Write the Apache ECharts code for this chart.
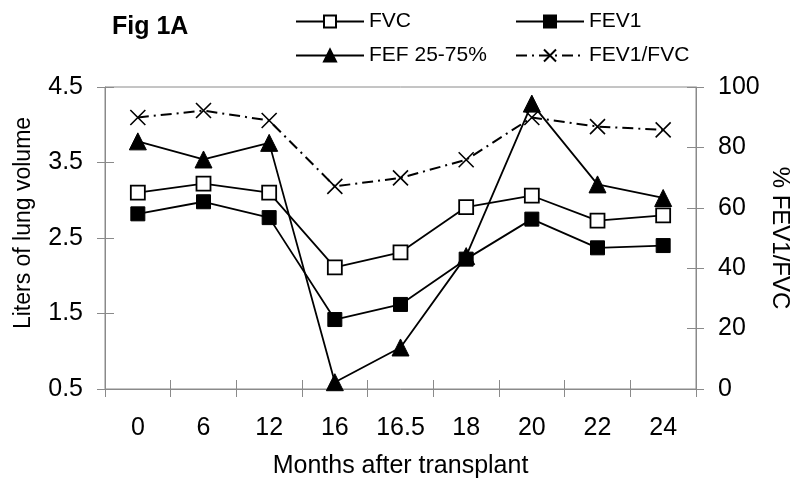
<!DOCTYPE html>
<html><head><meta charset="utf-8">
<script src="https://cdn.jsdelivr.net/npm/echarts@6/dist/echarts.min.js"></script>
<style>html,body{margin:0;padding:0;background:#fff}#c{width:800px;height:484px}</style>
</head><body><div id="c"></div>
<script>
const categories = ['0','6','12','16','16.5','18','20','22','24'];
const fvc = [3.10, 3.22, 3.10, 2.11, 2.31, 2.91, 3.06, 2.73, 2.80];
const fev1 = [2.82, 2.98, 2.77, 1.42, 1.62, 2.22, 2.75, 2.37, 2.40];
const fef = [3.78, 3.54, 3.76, 0.59, 1.05, 2.26, 4.28, 3.21, 3.03];
const ratio = [89.9, 92.2, 88.9, 67.1, 69.9, 75.9, 89.9, 86.9, 85.8];

const F = 'Liberation Sans, Arial, sans-serif';
const axisGrey = '#8a8a8a';
const crossPath = 'path://M0,0L10,10M10,0L0,10';

const chart = echarts.init(document.getElementById('c'), null, {renderer:'canvas'});
const legendCommon = {
  itemWidth: 68, itemHeight: 15,
  textStyle: {fontFamily: F, fontSize: 21, color: '#000'},
  itemGap: 0, padding: 0
};
const tickOnly = (extra) => Object.assign({
  axisLine: {show: false}, axisLabel: {show: false}, splitLine: {show: false},
  axisTick: {show: true, inside: true, length: 9, lineStyle: {color: axisGrey}}
}, extra);
chart.setOption({
  animation: false,
  backgroundColor: '#fff',
  title: {text: 'Fig 1A', left: 107, top: 10, textStyle: {fontFamily: F, fontSize: 25, fontWeight: 'bold', color: '#000'}},
  legend: [
    Object.assign({data: ['FVC'], left: 295, top: 11}, legendCommon),
    Object.assign({data: ['FEV1'], left: 515, top: 11}, legendCommon),
    Object.assign({data: ['FEF 25-75%'], left: 295, top: 45}, legendCommon),
    Object.assign({data: ['FEV1/FVC'], left: 515, top: 45}, legendCommon)
  ],
  grid: {left: 105, right: 104, top: 87, bottom: 94, show: true, borderColor: axisGrey, borderWidth: 1},
  xAxis: [
    {
      type: 'category', data: categories, boundaryGap: true, position: 'bottom',
      name: 'Months after transplant', nameLocation: 'middle', nameGap: 65, nameMoveOverlap: false,
      nameTextStyle: {fontFamily: F, fontSize: 25, color: '#000'},
      axisLine: {lineStyle: {color: axisGrey, width: 1}},
      axisTick: {show: true, length: 8, lineStyle: {color: axisGrey}},
      axisLabel: {fontFamily: F, fontSize: 25, color: '#000', margin: 27}
    },
    tickOnly({type: 'category', data: categories, boundaryGap: true, position: 'bottom'})
  ],
  yAxis: [
    {
      type: 'value', min: 0.5, max: 4.5, interval: 1, position: 'left',
      name: 'Liters of lung volume', nameLocation: 'middle', nameGap: 70, nameRotate: 90, nameMoveOverlap: false,
      nameTextStyle: {fontFamily: F, fontSize: 23, color: '#000', padding: [0, 0, 0, 30]},
      axisLine: {show: true, lineStyle: {color: axisGrey}},
      axisTick: {show: true, length: 8, lineStyle: {color: axisGrey}},
      axisLabel: {fontFamily: F, fontSize: 25, color: '#000', margin: 22, formatter: v => v.toFixed(1)},
      splitLine: {show: false}
    },
    {
      type: 'value', min: 0, max: 100, interval: 20, position: 'right',
      name: '% FEV1/FVC', nameLocation: 'middle', nameGap: 72, nameRotate: -90, nameMoveOverlap: false,
      nameTextStyle: {fontFamily: F, fontSize: 24, color: '#000'},
      axisLine: {show: true, lineStyle: {color: axisGrey}},
      axisTick: {show: true, length: 8, lineStyle: {color: axisGrey}},
      axisLabel: {fontFamily: F, fontSize: 25, color: '#000', margin: 22},
      splitLine: {show: false}
    },
    tickOnly({type: 'value', min: 0.5, max: 4.5, interval: 1, position: 'left'}),
    tickOnly({type: 'value', min: 0, max: 100, interval: 20, position: 'right'})
  ],
  series: [
    {name: 'FEV1/FVC', type: 'line', yAxisIndex: 1, data: ratio, symbol: crossPath, symbolSize: 15,
     lineStyle: {color: '#000', width: 2, type: [11, 5, 2, 5]},
     itemStyle: {color: '#000', borderColor: '#000', borderWidth: 1.6}, z: 2},
    {name: 'FVC', type: 'line', data: fvc, symbol: 'rect', symbolSize: 14,
     lineStyle: {color: '#000', width: 1.8},
     itemStyle: {color: '#fff', borderColor: '#000', borderWidth: 1.8}, z: 3},
    {name: 'FEV1', type: 'line', data: fev1, symbol: 'rect', symbolSize: 14,
     lineStyle: {color: '#000', width: 1.8},
     itemStyle: {color: '#000', borderColor: '#000', borderWidth: 1}, z: 3},
    {name: 'FEF 25-75%', type: 'line', data: fef, symbol: 'triangle', symbolSize: 17,
     lineStyle: {color: '#000', width: 1.8},
     itemStyle: {color: '#000', borderColor: '#000', borderWidth: 1}, z: 3}
  ]
});
</script></body></html>
